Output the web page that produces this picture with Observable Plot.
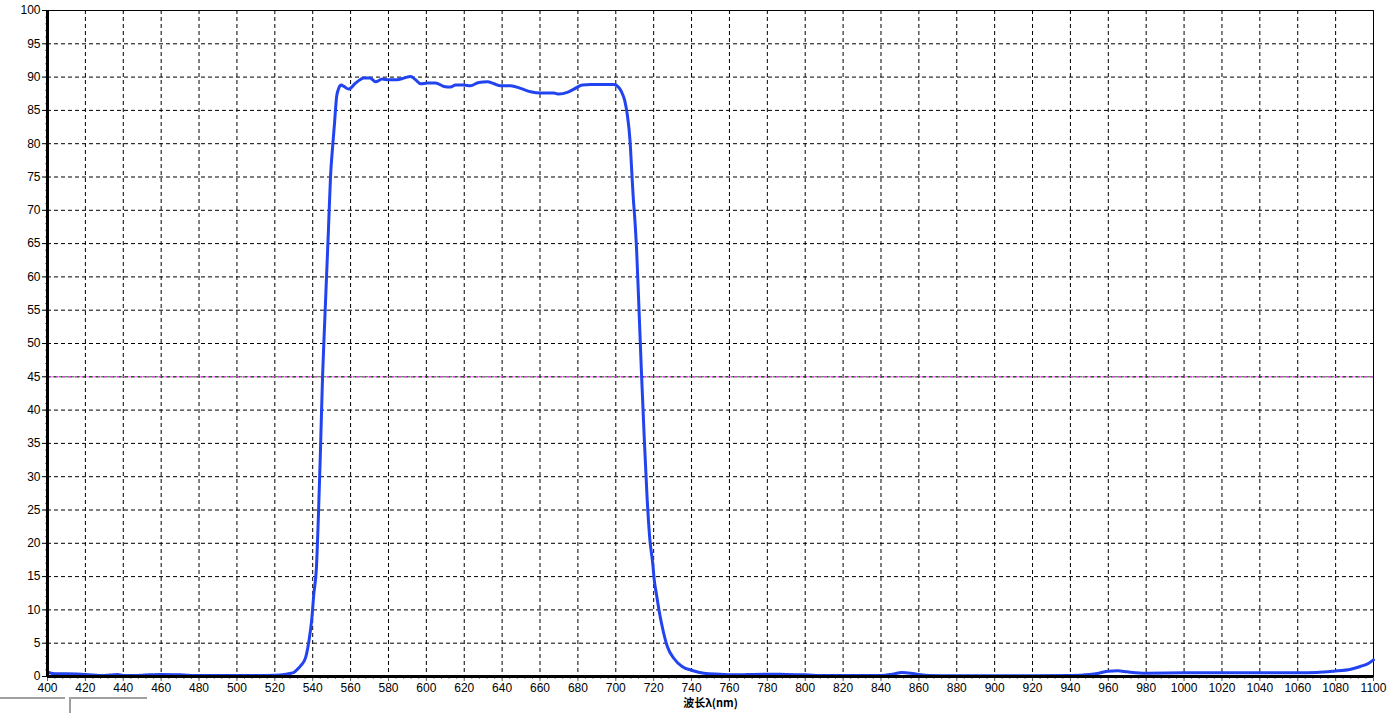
<!DOCTYPE html>
<html>
<head>
<meta charset="utf-8">
<script src="https://cdn.jsdelivr.net/npm/d3@7"></script>
<script src="https://cdn.jsdelivr.net/npm/@observablehq/plot@0.6"></script>
<style>
  html, body { margin: 0; padding: 0; background: #fff; }
  #wrap { position: relative; width: 1391px; height: 713px; overflow: hidden; }
  .deco { position: absolute; background: #a0a0a0; }
</style>
</head>
<body>
<div id="wrap">
  <div id="chart"></div>
  <div class="deco" style="left:0px;top:697px;width:65px;height:2px;"></div>
  <div class="deco" style="left:69px;top:697px;width:78px;height:2px;"></div>
  <div class="deco" style="left:69px;top:697px;width:2px;height:16px;"></div>
</div>
<script>
// Wavelength (nm)
const wavelength = [400, 402, 405, 410, 420, 430, 437, 440, 450, 460, 470, 480, 490, 500, 510, 520, 525, 528,
  530, 532, 533.6, 536.2, 538, 539.4, 540.6, 542, 543, 544, 545.2, 546.3, 547.3, 548.3, 549.4, 550.5, 551.5, 552.6, 553.6,
  555, 556.5, 559, 562.6, 565, 567, 570.2, 573.2, 576.7, 580, 584.6, 588.1, 591.7, 594.3, 597, 600.5, 604.9,
  609.3, 612.8, 615.4, 619.8, 623.3, 627.7, 632.2, 635.7, 639.2, 644.5, 649.7, 655, 660.3, 667.3, 670, 674.4,
  677.9, 682.3, 686.7, 692, 699, 701.7, 703, 704.7, 706.1, 707.5, 708.4, 709.2, 710.1, 711, 712, 713.5, 715,
  716.5, 718, 719.5, 720.3, 721.5, 722.8, 724.5, 727.2, 730.7, 735, 740.4, 746.5, 755, 762, 770, 780, 790, 800,
  810, 820, 830, 840, 846, 851, 855.6, 861, 865, 880, 900, 920, 940, 950, 955, 960, 965, 970, 980, 1000, 1020,
  1040, 1060, 1070, 1079, 1088, 1093, 1097.5, 1100];
// Transmittance (%)
const transmittance = [0.65, 0.5, 0.4, 0.4, 0.3, 0.15, 0.3, 0.15, 0.2, 0.3, 0.25, 0.15, 0.15, 0.15, 0.15, 0.2, 0.3, 0.45,
  0.6, 1.1, 1.6, 2.8, 5.3, 8.3, 12.4, 16.5, 24, 33, 45, 53, 60, 67, 75, 79.5, 83, 87, 88.2,
  88.8, 88.6, 88.2, 89.1, 89.6, 89.85, 89.85, 89.3, 89.7, 89.6, 89.6, 89.85, 90.1, 89.6, 89.0, 89.1, 89.1,
  88.6, 88.5, 88.8, 88.8, 88.7, 89.2, 89.3, 89.0, 88.7, 88.7, 88.3, 87.8, 87.6, 87.6, 87.45, 87.7,
  88.2, 88.8, 88.9, 88.9, 88.9, 88.4, 87.8, 86.5, 84.3, 80.5, 76, 72, 68.5, 64, 57, 46, 36,
  27, 20.5, 17, 14.5, 12.3, 10, 7.5, 4.5, 2.7, 1.5, 0.9, 0.5, 0.35, 0.25, 0.3, 0.35, 0.3, 0.25,
  0.15, 0.15, 0.15, 0.15, 0.35, 0.6, 0.5, 0.25, 0.15, 0.1, 0.1, 0.1, 0.15, 0.3, 0.5, 0.8, 0.85, 0.7, 0.5, 0.55, 0.55,
  0.55, 0.55, 0.6, 0.8, 1.1, 1.5, 2.0, 2.5];
const xMajorTicks = d3.range(400, 1101, 20);
const xMinorTicks = d3.range(400, 1101, 4);
const yMajorTicks = d3.range(0, 101, 5);
const yMinorTicks = d3.range(0, 101, 1);
const refLevel = [45];
const xLabel = "波长λ(nm)";

const data = wavelength.map((w, i) => ({w, t: transmittance[i]}));

const chart = Plot.plot({
  width: 1391,
  height: 713,
  marginLeft: 47,
  marginRight: 18,
  marginTop: 10,
  marginBottom: 37,
  style: {fontFamily: "'Liberation Sans', Arial, sans-serif", fontSize: "12px", background: "#fff", color: "#000"},
  x: {domain: [400, 1100]},
  y: {domain: [0, 100]},
  marks: [
    Plot.gridX(xMajorTicks.filter(d => d > 400 && d < 1100), {stroke: "#000", strokeOpacity: 1, strokeDasharray: "4,3", strokeWidth: 1}),
    Plot.gridY(yMajorTicks.filter(d => d > 0 && d < 100), {stroke: "#000", strokeOpacity: 1, strokeDasharray: "4,3", strokeWidth: 1}),
    Plot.ruleY(refLevel, {stroke: "#008000", strokeWidth: 1, strokeDasharray: "3,3"}),
    Plot.ruleY(refLevel, {stroke: "#ff55ff", strokeWidth: 1, strokeDasharray: "3,3", strokeDashoffset: 3}),
    Plot.axisX({ticks: xMinorTicks, tickSize: 3, text: null, stroke: "#808080", label: null}),
    Plot.axisX({ticks: xMajorTicks, tickSize: 5, tickPadding: 2, stroke: "#606060", label: null, tickFormat: d => String(d), fontSize: 12}),
    Plot.axisY({ticks: yMinorTicks, tickSize: 2, text: null, stroke: "#808080", label: null}),
    Plot.axisY({ticks: yMajorTicks, tickSize: 5, tickPadding: 2, stroke: "#000", label: null, tickFormat: d => String(d), fontSize: 12}),
    Plot.frame({stroke: "#000", strokeWidth: 1}),
    Plot.line(data, {x: "w", y: "t", stroke: "#2143f0", strokeWidth: 3, curve: "monotone-x"}),
    Plot.ruleX([400], {stroke: "#000", strokeWidth: 3}),
    Plot.ruleY([0], {stroke: "#000", strokeWidth: 3}),
    Plot.text([xLabel], {frameAnchor: "bottom", dy: 30, fontWeight: "bold", fontSize: 11, fontFamily: "'Noto Sans CJK SC', sans-serif", fill: "#000"})
  ]
});
document.getElementById("chart").appendChild(chart);
</script>
</body>
</html>
